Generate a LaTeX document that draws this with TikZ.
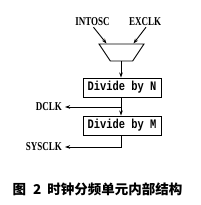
\documentclass[tikz,border=0pt]{standalone}
\usepackage{fontspec}
\setmainfont{Liberation Serif}
\newfontfamily\sigfont{Liberation Serif}[FakeStretch=0.75]
\newfontfamily\boxfont{Liberation Mono}[FakeStretch=0.8]
\newfontfamily\cjk{Noto Sans CJK SC}
\usetikzlibrary{positioning,arrows.meta,shapes.geometric}

\begin{document}
\begin{tikzpicture}[x=1pt, y=-1pt,
    sig/.style={inner sep=0pt, font=\fontsize{12}{12}\sigfont\bfseries},
    dbox/.style={draw, line width=0.9pt, minimum width=78pt, minimum height=19pt,
                 inner sep=0pt, font=\fontsize{13}{13}\boxfont\bfseries},
    mux/.style={draw, line width=0.9pt, trapezium, shape border rotate=180, trapezium angle=63,
                minimum width=45pt, minimum height=17pt, inner sep=1pt, trapezium stretches=true},
    arr/.style={-{Stealth[length=5pt, width=3.5pt]}, line width=0.9pt}
]
\useasboundingbox (0,0) rectangle (200,205);
\node[sig]  (intosc) at (92.5,22) {INTOSC};
\node[sig]  (exclk)  at (145,22)  {EXCLK};
\node[mux]  (sel)    at (121.5,52.5) {};
\node[dbox] (divn)   at (122,87.5)  {Divide by N};
\node[dbox] (divm)   at (122,125.5) {Divide by M};
\node[sig, anchor=east] (dclk)   at (62,107)  {DCLK};
\node[sig, anchor=east] (sysclk) at (62,147) {SYSCLK};
\node[inner sep=0pt, font=\fontsize{13.5}{13.5}\cjk\bfseries] (cap) at (97.5,189)
    {图\hspace{7pt}2\hspace{6pt}时钟分频单元内部结构};
\coordinate (br) at (121,107);
\coordinate (dn) at (121,147);
\draw[arr] ([xshift=1pt,yshift=-1pt]intosc.south) -- ([xshift=-15pt]sel.north);
\draw[arr] ([xshift=1pt,yshift=-1pt]exclk.south) -- ([xshift=12pt]sel.north);
\draw[arr] (sel.south -| br) -- (divn.north -| br);
\draw[arr] (divn.south -| br) -- (divm.north -| br);
\draw[arr] (br) -- ([xshift=3pt]dclk.east);
\draw[arr] (divm.south -| dn) -- (dn) -- ([xshift=3pt]sysclk.east);
\end{tikzpicture}
\end{document}
